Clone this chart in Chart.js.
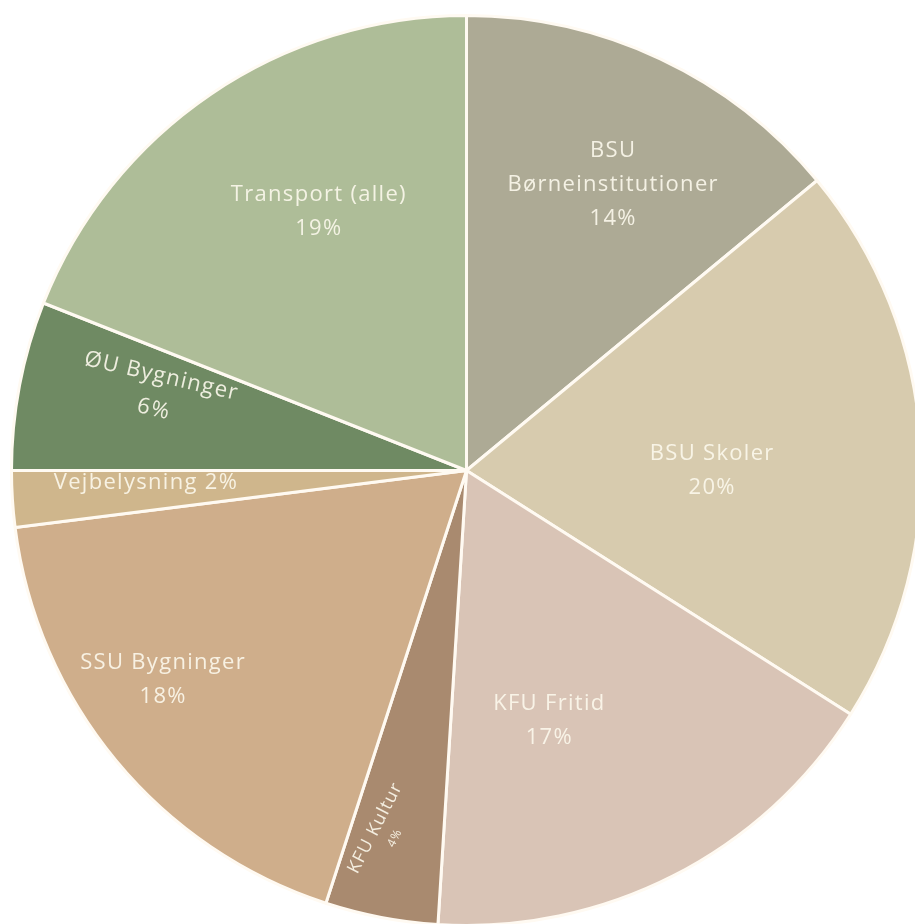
<!DOCTYPE html>
<html lang="da">
<head>
<meta charset="utf-8">
<script src="https://cdn.jsdelivr.net/npm/chart.js@4/dist/chart.umd.min.js"></script>
<style>
  html, body { margin: 0; padding: 0; background: #ffffff; overflow: hidden; width: 915px; height: 924px; }
  #wrap { position: absolute; left: 0; top: 0; width: 934px; height: 942px; }
</style>
</head>
<body>
<div id="wrap"><canvas id="pie" width="934" height="942"></canvas></div>
<script>
// Energiforbrug fordelt på område (andel i procent)
const categories = [
  ['BSU', 'Børneinstitutioner'],
  ['BSU Skoler'],
  ['KFU Fritid'],
  ['KFU Kultur'],
  ['SSU Bygninger'],
  ['Vejbelysning'],
  ['ØU Bygninger'],
  ['Transport (alle)']
];
const shares = [14, 20, 17, 4, 18, 2, 6, 19];
const colors = ['#adaa95', '#d7cbae', '#d9c4b6', '#a98a6f', '#cfae8b', '#cfb68c', '#6f8a63', '#aebd98'];

// Label placement inside each slice: radial fraction, angle shift (deg), rotation (deg)
const labelPlacement = [
  { r: 0.705, shift: 2,   rot: 0 },
  { r: 0.54,  shift: 3.6, rot: 0 },
  { r: 0.58,  shift: 8.7, rot: 0 },
  { r: 0.815, shift: 2.3, rot: -63 },
  { r: 0.81,  shift: 5,   rot: 0 },
  { r: 0.705, shift: 1.5, rot: 0, inline: true },
  { r: 0.70,  shift: 3.3, rot: 13 },
  { r: 0.655, shift: 4.5, rot: 0 }
];

const FONT = '"Open Sans", Lato, sans-serif';

const sliceLabels = {
  id: 'sliceLabels',
  afterDatasetsDraw(chart) {
    const ctx = chart.ctx;
    const meta = chart.getDatasetMeta(0);
    meta.data.forEach((arc, i) => {
      const p = arc.getProps(['x', 'y', 'startAngle', 'endAngle', 'outerRadius'], true);
      const place = labelPlacement[i];
      const mid = (p.startAngle + p.endAngle) / 2 + place.shift * Math.PI / 180;
      const cx = p.x + Math.cos(mid) * p.outerRadius * place.r;
      const cy = p.y + Math.sin(mid) * p.outerRadius * place.r;
      const pct = shares[i] + '%';
      ctx.save();
      ctx.translate(cx, cy);
      ctx.rotate(place.rot * Math.PI / 180);
      ctx.fillStyle = 'rgba(252,248,236,0.9)';
      ctx.textAlign = 'center';
      ctx.textBaseline = 'middle';
      ctx.letterSpacing = '1.3px';
      if (place.inline) {
        ctx.font = '22px ' + FONT;
        ctx.fillText(categories[i].join(' ') + ' ' + pct, 0, 0);
      } else if (shares[i] < 5) {
        ctx.letterSpacing = '1px';
        ctx.font = '18px ' + FONT;
        ctx.fillText(categories[i].join(' '), 0, -8);
        ctx.font = '12px ' + FONT;
        ctx.fillText(pct, 0, 14);
      } else {
        const lines = categories[i].concat([pct]);
        const lh = 34;
        ctx.font = '22px ' + FONT;
        lines.forEach((t, k) => {
          ctx.fillText(t, 0, (k - (lines.length - 1) / 2) * lh);
        });
      }
      ctx.restore();
    });
  }
};

new Chart(document.getElementById('pie'), {
  type: 'pie',
  data: {
    labels: categories.map(c => c.join(' ')),
    datasets: [{
      data: shares,
      backgroundColor: colors,
      borderColor: '#fffaf2',
      borderWidth: 3
    }]
  },
  options: {
    responsive: false,
    animation: false,
    layout: { padding: { left: 10, right: 11, top: 14, bottom: 15 } },
    plugins: {
      legend: { display: false },
      tooltip: { enabled: false }
    }
  },
  plugins: [sliceLabels]
});
</script>
</body>
</html>
